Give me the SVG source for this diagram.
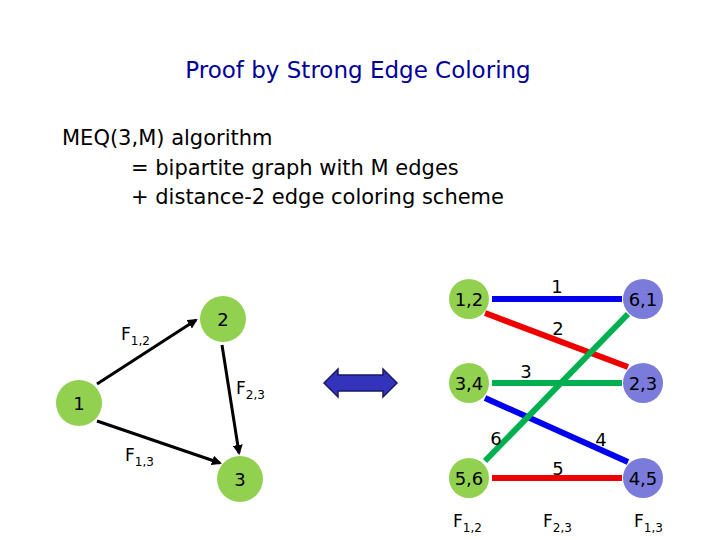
<svg xmlns="http://www.w3.org/2000/svg" width="720" height="540" viewBox="0 0 720 540">
<style>
text{font-family:"DejaVu Sans","Liberation Sans",sans-serif;fill:#000}
.t{font-size:21px}
.n{font-size:18px;text-anchor:middle}
.l{font-size:17px}
.s{font-size:12px}
.g{fill:#92d050}
.b{fill:#7b7bdb}
.e{stroke-width:6;fill:none}
</style>
<defs><marker id="ah" markerWidth="10" markerHeight="10" refX="8" refY="5" orient="auto" markerUnits="userSpaceOnUse"><path d="M0,0 L10,5 L0,10 Z" fill="#000"/></marker></defs>
<rect width="720" height="540" fill="#fff"/>
<text x="358" y="78" text-anchor="middle" style="font-size:23px;fill:#000099">Proof by Strong Edge Coloring</text>
<text class="t" x="62" y="145">MEQ(3,M) algorithm</text>
<text class="t" x="131" y="175">= bipartite graph with M edges</text>
<text class="t" x="131" y="204">+ distance-2 edge coloring scheme</text>
<g id="connectors">
<line x1="97" y1="384" x2="196" y2="320" stroke="#000" stroke-width="3" marker-end="url(#ah)"/>
<line x1="222" y1="345" x2="239" y2="453" stroke="#000" stroke-width="3" marker-end="url(#ah)"/>
<line x1="97" y1="421" x2="220" y2="463" stroke="#000" stroke-width="3" marker-end="url(#ah)"/>
<line class="e" x1="492" y1="299" x2="622" y2="299" stroke="#0000ee"/>
<line class="e" x1="485" y1="313" x2="628" y2="367" stroke="#ee0000"/>
<line class="e" x1="492" y1="383" x2="622" y2="383" stroke="#00b050"/>
<line class="e" x1="485" y1="398" x2="628" y2="462" stroke="#0000ee"/>
<line class="e" x1="492" y1="478" x2="622" y2="478" stroke="#ee0000"/>
<line class="e" x1="485" y1="461" x2="628" y2="314" stroke="#00b050"/>
<path d="M324,383 L338,369 L338,375 L383,375 L383,369 L397,383 L383,397 L383,391 L338,391 L338,397 Z" fill="#3333bb" stroke="#1a1a66" stroke-width="1.5"/>
</g>
<g id="edge-labels">
<text class="l" x="121" y="340">F<tspan class="s" dy="5">1,2</tspan></text>
<text class="l" x="236" y="394">F<tspan class="s" dy="5">2,3</tspan></text>
<text class="l" x="125" y="461">F<tspan class="s" dy="5">1,3</tspan></text>
<text class="n" x="557" y="293">1</text>
<text class="n" x="558" y="335">2</text>
<text class="n" x="526" y="378">3</text>
<text class="n" x="496" y="445">6</text>
<text class="n" x="601" y="446">4</text>
<text class="n" x="558" y="475">5</text>
<text class="l" x="453" y="527">F<tspan class="s" dy="5">1,2</tspan></text>
<text class="l" x="543" y="527">F<tspan class="s" dy="5">2,3</tspan></text>
<text class="l" x="634" y="527">F<tspan class="s" dy="5">1,3</tspan></text>
</g>
<g id="n1"><circle class="g" cx="79" cy="403" r="23"/><text class="n" x="79" y="410">1</text></g>
<g id="n2"><circle class="g" cx="223" cy="319" r="23"/><text class="n" x="223" y="326">2</text></g>
<g id="n3"><circle class="g" cx="240" cy="479" r="23"/><text class="n" x="240" y="486">3</text></g>
<g id="a12"><circle class="g" cx="469" cy="299" r="20"/><text class="n" x="469" y="306">1,2</text></g>
<g id="a34"><circle class="g" cx="469" cy="383" r="20"/><text class="n" x="469" y="390">3,4</text></g>
<g id="a56"><circle class="g" cx="469" cy="478" r="20"/><text class="n" x="469" y="485">5,6</text></g>
<g id="b61"><circle class="b" cx="643" cy="299" r="20"/><text class="n" x="643" y="306">6,1</text></g>
<g id="b23"><circle class="b" cx="643" cy="383" r="20"/><text class="n" x="643" y="390">2,3</text></g>
<g id="b45"><circle class="b" cx="643" cy="478" r="20"/><text class="n" x="643" y="485">4,5</text></g>
</svg>
